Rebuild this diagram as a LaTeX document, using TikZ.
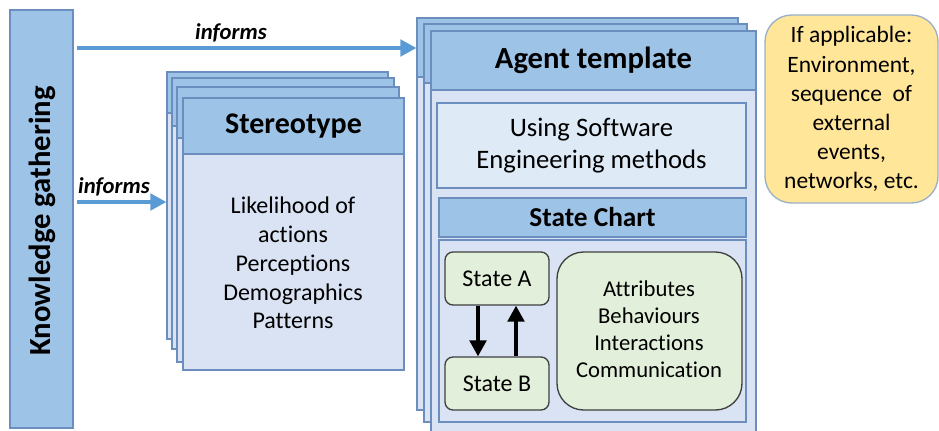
\documentclass[tikz,border=0pt]{standalone}
\usepackage{fontspec}
\setmainfont{Carlito}[Ligatures=NoCommon]
\usetikzlibrary{arrows.meta,fit}
\definecolor{headc}{HTML}{9DC3E6}
\definecolor{bodyc}{HTML}{DAE3F3}
\definecolor{bordc}{HTML}{6C8EBF}
\definecolor{swc}{HTML}{DEEAF6}
\definecolor{greenc}{HTML}{E2EFDA}
\definecolor{greenb}{HTML}{3F3F3F}
\definecolor{yelc}{HTML}{FFE699}
\definecolor{yelb}{HTML}{9AAFC8}
\definecolor{arrc}{HTML}{5B9BD5}
\begin{document}
\begin{tikzpicture}[x=0.75pt,y=-0.75pt,
  pg/.style={draw=bordc, fill=bodyc, line width=1pt, inner sep=0pt},
  hd/.style={draw=bordc, fill=headc, line width=1pt, inner sep=0pt},
  swbox/.style={draw=bordc, fill=swc, line width=1pt, inner sep=0pt},
  statebox/.style={draw=greenb, fill=greenc, line width=1pt, inner sep=0pt, rounded corners=6pt},
  attrbox/.style={draw=greenb, fill=greenc, line width=1pt, inner sep=0pt, rounded corners=20pt},
  yelbox/.style={draw=yelb, fill=yelc, line width=1pt, inner sep=0pt, rounded corners=20pt},
  bluearrow/.style={draw=arrc, line width=2.4pt, -{Triangle[length=12pt,width=12.5pt]}},
  blackarrow/.style={draw=black, line width=2.5pt, -{Triangle[length=12pt,width=12.5pt]}},
  txt/.style={inner sep=0pt, align=center, text=black},
  ]
\clip (0,0) rectangle (939,430);

% Knowledge gathering bar
\node[hd, fit={(10,10) (73,428)}] (kg) {};
\node[txt, rotate=90, font=\bfseries\fontsize{23}{27}\selectfont] (kgt) at (42,221) {Knowledge gathering};

% Stereotype stack
\node[pg, fit={(167,72) (388,339)}] (st1) {};
\node[hd, fit={(167,72) (388,113)}] (st1h) {};
\node[pg, fit={(172,78) (394,349)}] (st2) {};
\node[hd, fit={(172,78) (394,126)}] (st2h) {};
\node[pg, fit={(177,87) (399,362)}] (st3) {};
\node[hd, fit={(177,87) (399,138)}] (st3h) {};
\node[pg, fit={(183,98) (404,370)}] (st4) {};
\node[hd, fit={(183,98) (404,154)}] (st4h) {};
\node[txt, font=\bfseries\fontsize{22.5}{27}\selectfont] (stt) at (st4h.center) {Stereotype};
\node[txt, font=\fontsize{18}{21.6}\selectfont] (stb) at (293,263)
  {Likelihood of\\actions\\Perceptions\\Demographics\\Patterns};

% Agent template stack
\node[pg, fit={(417,18) (738,410)}] (ag1) {};
\node[hd, fit={(417,18) (738,77)}] (ag1h) {};
\node[pg, fit={(424,24) (747,422)}] (ag2) {};
\node[hd, fit={(424,24) (747,83)}] (ag2h) {};
\node[pg, fit={(431,31) (756,445)}] (ag3) {};
\node[hd, fit={(431,31) (756,90)}] (ag3h) {};
\node[txt, font=\bfseries\fontsize{23}{27}\selectfont] (agt) at (ag3h.center) {Agent template};

\node[swbox, fit={(437,103) (746,188)}] (sw) {};
\node[txt, font=\fontsize{20}{24}\selectfont] (swt) at (sw.center) {Using Software\\Engineering methods};

\node[hd, fit={(439,198) (746,237)}] (sch) {};
\node[txt, font=\bfseries\fontsize{20.5}{24}\selectfont] (scht) at (sch.center) {State Chart};
\node[pg, fit={(439,240) (746,422)}] (scb) {};

\node[statebox, minimum width=104*0.75pt, minimum height=53*0.75pt, font=\fontsize{18}{21.6}\selectfont] (sa) at (497,278.5) {State A};
\node[statebox, minimum width=104*0.75pt, minimum height=53*0.75pt, font=\fontsize{18}{21.6}\selectfont] (sb) at (497,383.5) {State B};
\node[attrbox, fit={(557,252) (742,410)}] (attr) {};
\node[txt, font=\fontsize{17}{20.3}\selectfont] (attrt) at (649,329) {Attributes\\Behaviours\\Interactions\\Communication};

\draw[blackarrow] (sa.south -| 478,0) -- (sb.north -| 478,0);
\draw[blackarrow] (sb.north -| 516,0) -- (sa.south -| 516,0);

% Yellow box
\node[yelbox, fit={(765,15) (938,203)}] (env) {};
\node[txt, font=\fontsize{17.6}{21.8}\selectfont] (envt) at (env.center) {If applicable:\\Environment,\\sequence~ of\\external\\events,\\networks, etc.};

% informs arrows
\coordinate (y1) at (0,48);
\coordinate (y2) at (0,202);
\draw[bluearrow, shorten <=2.5pt] (kg.east |- y1) -- (ag1.west |- y1);
\draw[bluearrow, shorten <=2.5pt] (kg.east |- y2) -- (st1.west |- y2);
\node[txt, font=\bfseries\itshape\fontsize{17}{20}\selectfont] (inf1) at (231,33) {informs};
\node[txt, font=\bfseries\itshape\fontsize{17}{20}\selectfont] (inf2) at (114,187) {informs};
\end{tikzpicture}
\end{document}
